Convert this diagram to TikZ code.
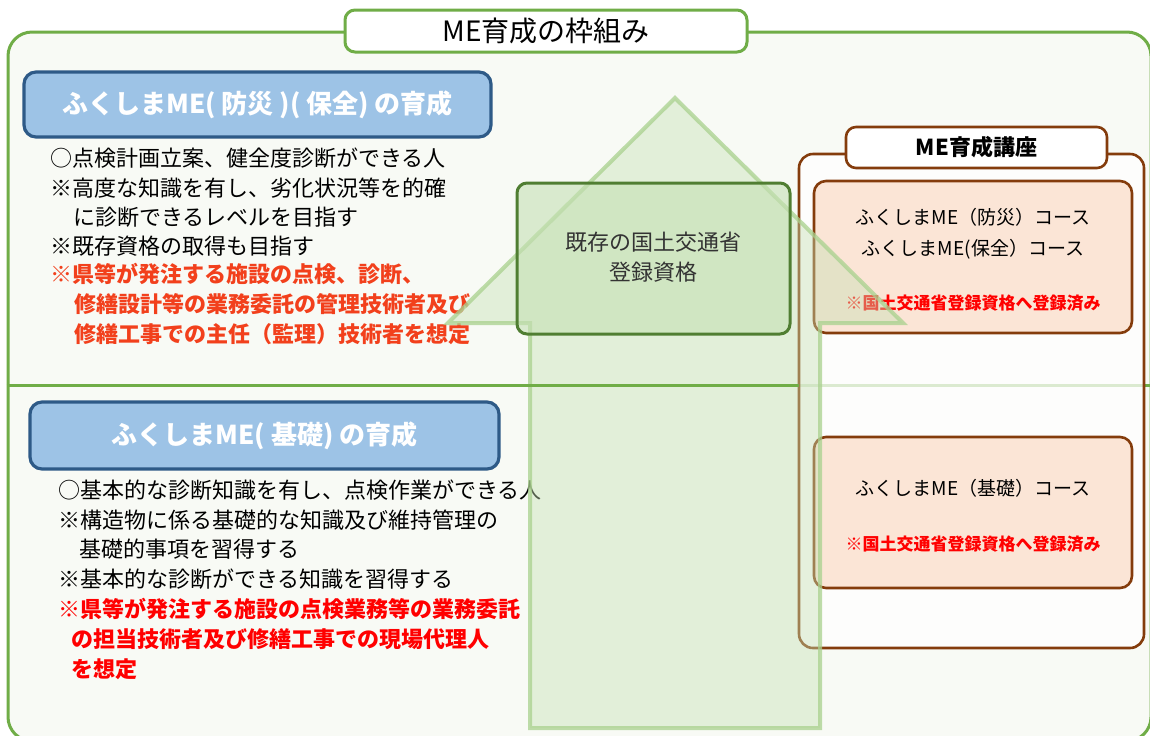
\documentclass[tikz,border=0pt]{standalone}
\usepackage{fontspec}
\usepackage{xcolor}
\setmainfont{Noto Sans CJK JP}
\usetikzlibrary{positioning}
\definecolor{frgreen}{HTML}{70AD47}
\definecolor{bgpale}{HTML}{F8FAF5}
\definecolor{hdfill}{HTML}{9DC3E6}
\definecolor{hdline}{HTML}{2E5A87}
\definecolor{regfill}{HTML}{C5E0B4}
\definecolor{regline}{HTML}{507E32}
\definecolor{regtext}{HTML}{333333}
\definecolor{crsline}{HTML}{843C0C}
\definecolor{crsfill}{HTML}{FBE5D6}
\definecolor{redA}{HTML}{F2401C}
\definecolor{redB}{HTML}{FF0000}
\definecolor{flowfill}{HTML}{C5E0B4}
\definecolor{flowline}{HTML}{A9D18E}
\tikzstyle{outerframe} = [draw=frgreen, line width=1.5pt, fill=bgpale, rounded corners=12pt, inner sep=0pt]
\tikzstyle{divider} = [draw=frgreen, line width=1.5pt]
\tikzstyle{titlebox} = [draw=frgreen, line width=1.5pt, fill=white, rounded corners=5pt, font=\fontsize{14}{16}\selectfont]
\tikzstyle{header} = [draw=hdline, line width=1.6pt, fill=hdfill, rounded corners=6pt, text=white, font=\fontsize{13}{15}\selectfont\bfseries]
\tikzstyle{txt} = [anchor=west, inner sep=0pt, text height=0.8em, text depth=0.05em, font=\fontsize{11}{13}\selectfont]
\tikzstyle{redtxtA} = [txt, text=redA, font=\fontsize{11}{13}\selectfont\bfseries]
\tikzstyle{redtxtB} = [txt, text=redB, font=\fontsize{11}{13}\selectfont\bfseries]
\tikzstyle{regbox} = [draw=regline, line width=1.5pt, fill=regfill, fill opacity=0.6, rounded corners=5pt]
\tikzstyle{regtxt} = [inner sep=0pt, text=regtext, text height=0.8em, text depth=0.05em, font=\fontsize{11}{13}\selectfont]
\tikzstyle{coursewrap} = [draw=crsline, line width=1.3pt, fill=white, fill opacity=0.75, rounded corners=7pt]
\tikzstyle{lecturebox} = [draw=crsline, line width=1.3pt, fill=white, rounded corners=5pt, font=\fontsize{11}{13}\selectfont\bfseries]
\tikzstyle{course} = [draw=crsline, line width=1.3pt, fill=crsfill, rounded corners=6pt]
\tikzstyle{crstxt} = [inner sep=0pt, text height=0.8em, text depth=0.05em, font=\fontsize{9.5}{11}\selectfont]
\tikzstyle{crsnote} = [inner sep=0pt, text=redB, text height=0.8em, text depth=0.05em, font=\fontsize{8.5}{10}\selectfont\bfseries]
\tikzstyle{upflow} = [draw=flowline, line width=2pt, draw opacity=0.75, fill=flowfill, fill opacity=0.42]

\begin{document}
\begin{tikzpicture}[x=0.5pt,y=-0.5pt]
      \useasboundingbox (0,0) rectangle (1150,735);
      \clip (0,0) rectangle (1150,735);
      \node (frame) [outerframe, minimum width=571.5pt, minimum height=354.5pt] at (579.5,386.5) {};
      \node (title) [titlebox, minimum width=201pt, minimum height=21pt] at (546,31) {ME育成の枠組み};
      \node (hdA) [header, minimum width=233.5pt, minimum height=32.5pt] at (257.5,104.5) {ふくしまME( 防災 )( 保全) の育成};
      \node (hdB) [header, minimum width=234.5pt, minimum height=33.5pt] at (264.5,435.5) {ふくしまME( 基礎) の育成};
      \node (a1) [txt] at (50,159) {○点検計画立案、健全度診断ができる人};
      \node (a2) [txt] at (50,189) {※高度な知識を有し、劣化状況等を的確};
      \node (a3) [txt] at (73,218) {に診断できるレベルを目指す};
      \node (a4) [txt] at (50,247) {※既存資格の取得も目指す};
      \node (a5) [redtxtA] at (50,275) {※県等が発注する施設の点検、診断、};
      \node (a6) [redtxtA] at (74,305) {修繕設計等の業務委託の管理技術者及び};
      \node (a7) [redtxtA] at (74,335) {修繕工事での主任（監理）技術者を想定};
      \node (b1) [txt] at (58,491) {○基本的な診断知識を有し、点検作業ができる人};
      \node (b2) [txt] at (58,521) {※構造物に係る基礎的な知識及び維持管理の};
      \node (b3) [txt] at (79,550) {基礎的事項を習得する};
      \node (b4) [txt] at (58,580) {※基本的な診断ができる知識を習得する};
      \node (b5) [redtxtB] at (58,610) {※県等が発注する施設の点検業務等の業務委託};
      \node (b6) [redtxtB] at (71,640) {の担当技術者及び修繕工事での現場代理人};
      \node (b7) [redtxtB] at (71,670) {を想定};
      \coordinate (cut) at (799,385);
      \draw [divider] (cut) -- (frame.east |- cut);
      \node (wrap) [coursewrap, minimum width=172.5pt, minimum height=247pt] at (971.5,401) {};
      \node (lecture) [lecturebox, minimum width=130.5pt, minimum height=20.5pt] at (976.5,147.5) {ME育成講座};
      \node (crsA) [course, minimum width=159pt, minimum height=76pt] at (973,257) {};
      \node (crsAa) [crstxt] at (973,217) {ふくしまME（防災）コース};
      \node (crsAb) [crstxt] at (973,248) {ふくしまME(保全）コース};
      \node (crsAn) [crsnote] at (973,302) {※国土交通省登録資格へ登録済み};
      \node (crsB) [course, minimum width=159pt, minimum height=75.5pt] at (973,512.5) {};
      \node (crsBa) [crstxt] at (973,488) {ふくしまME（基礎）コース};
      \node (crsBn) [crsnote] at (973,543) {※国土交通省登録資格へ登録済み};
      \draw [upflow] (530,728) -- (530,323) -- (448,323) -- (675,98) -- (903,323) -- (820,323) -- (820,728) -- cycle;
      \draw [divider] (frame.west |- cut) -- (cut);
      \node (reg) [regbox, minimum width=136.5pt, minimum height=75.5pt] at (653.5,258.5) {};
      \node (regA) [regtxt] at (653,243) {既存の国土交通省};
      \node (regB) [regtxt] at (653,273) {登録資格};
    \end{tikzpicture}
\end{document}
